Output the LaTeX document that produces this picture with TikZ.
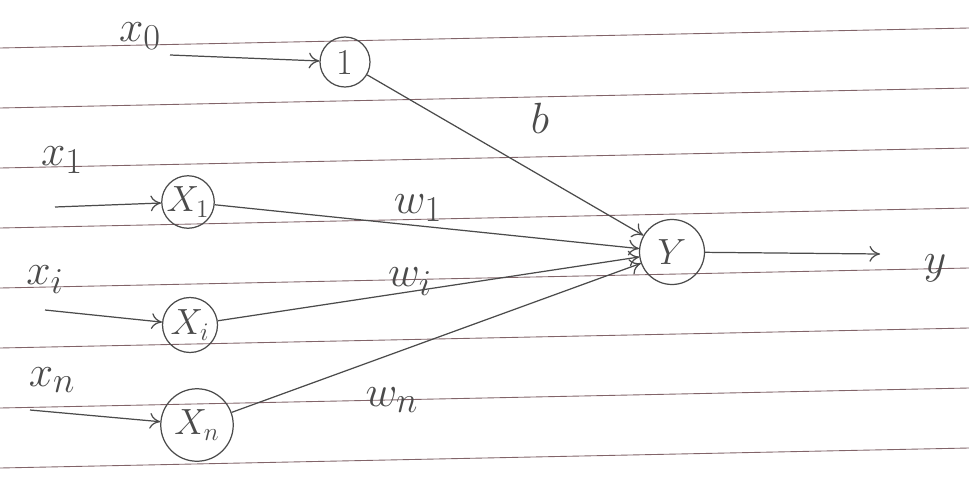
\documentclass[tikz,border=0pt]{standalone}
\usetikzlibrary{arrows.meta}
\definecolor{ruleline}{RGB}{130,100,105}
\definecolor{pencil}{RGB}{75,75,75}
\begin{document}
\begin{tikzpicture}[x=0.02cm,y=-0.02cm,
    neuron/.style={draw=pencil, circle, inner sep=0pt, line width=0.7pt, text=pencil, font=\huge},
    link/.style={draw=pencil, line width=0.7pt, -{To[length=6pt,width=9pt]}},
    lbl/.style={text=pencil, font=\Huge}]
    \useasboundingbox (0,0) rectangle (969,483);
    \fill[white] (0,0) rectangle (969,483);

    % Ruled lines of the notebook page
    \foreach \i in {0,...,7} {
        \draw[ruleline, line width=0.5pt] (0,48+60*\i) -- (969,28+60*\i);
    }

    % Neurons
    \node[neuron, minimum size=1cm] (one) at (345,62) {1};
    \node[neuron, minimum size=1cm] (xa) at (188,202) {$X_1$};
    \node[neuron, minimum size=1.1cm] (xi) at (190,325) {$X_i$};
    \node[neuron, minimum size=1.45cm] (xn) at (197,425) {$X_n$};
    \node[neuron, minimum size=1.3cm] (Y) at (672,252) {$Y$};

    % Free ends of the input and output arrows
    \coordinate (in0) at (170,55);
    \coordinate (in1) at (55,207);
    \coordinate (ini) at (45,310);
    \coordinate (inn) at (30,410);
    \coordinate (out) at (880,254);

    % Inputs
    \draw[link] (in0) -- (one);
    \draw[link] (in1) -- (xa);
    \draw[link] (ini) -- (xi);
    \draw[link] (inn) -- (xn);

    % Weighted connections and output
    \draw[link] (one) -- (Y);
    \draw[link] (xa) -- (Y);
    \draw[link] (xi) -- (Y);
    \draw[link] (xn) -- (Y);
    \draw[link] (Y) -- (out);

    % Labels
    \node[lbl] (lx0) at (140,36) {$x_0$};
    \node[lbl] (lx1) at (62,160) {$x_1$};
    \node[lbl] (lxi) at (45,280) {$x_i$};
    \node[lbl] (lxn) at (52,380) {$x_n$};
    \node[lbl] (lb) at (540,118) {$b$};
    \node[lbl] (lw1) at (418,208) {$w_1$};
    \node[lbl] (lwi) at (410,282) {$w_i$};
    \node[lbl] (lwn) at (392,400) {$w_n$};
    \node[lbl] (ly) at (935,268) {$y$};
\end{tikzpicture}
\end{document}
